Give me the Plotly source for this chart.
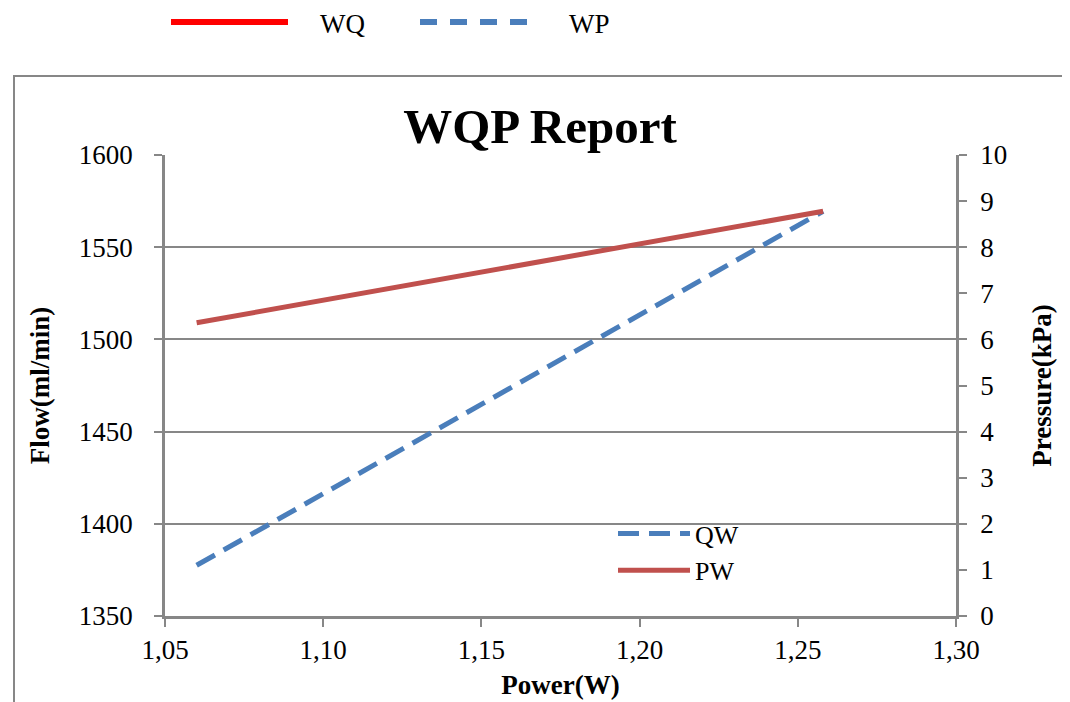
import plotly.graph_objects as go

# Data
power_qw = [1.06, 1.258]
flow_qw = [1377.5, 1569.5]
power_pw = [1.06, 1.258]
pressure_pw = [6.36, 8.78]

x_ticks = [1.05, 1.10, 1.15, 1.20, 1.25, 1.30]
x_tick_labels = ["1,05", "1,10", "1,15", "1,20", "1,25", "1,30"]
left_ticks = [1350, 1400, 1450, 1500, 1550, 1600]
right_ticks = list(range(0, 11))

FONT = "Liberation Serif"
GRAY = "#878787"
BLUE = "#4a7ebb"
RED = "#c0504d"
NB = "\u00a0"

fig = go.Figure()

fig.add_trace(go.Scatter(
    x=power_qw, y=flow_qw, mode="lines", name="QW",
    line=dict(color=BLUE, width=5, dash="21px,10px"),
    legend="legend", yaxis="y"))
fig.add_trace(go.Scatter(
    x=power_pw, y=pressure_pw, mode="lines", name="PW",
    line=dict(color=RED, width=5),
    legend="legend", yaxis="y2"))

# outer legend entries
fig.add_trace(go.Scatter(
    x=[None], y=[None], mode="lines", name=NB * 4 + "WQ",
    line=dict(color="#ff0000", width=6), legend="legend2", yaxis="y"))
fig.add_trace(go.Scatter(
    x=[None], y=[None], mode="lines", name=NB * 4 + "WP",
    line=dict(color=BLUE, width=6, dash="17px,13px"), legend="legend2", yaxis="y"))

W, H = 1070, 702
OFF = 8  # page body margin
L = 165 - OFF
T = 155 - OFF
R = W - (956 - OFF)
B = H - (616 - OFF)
pw = W - L - R
ph = H - T - B

def px(xw):
    return (xw - OFF - L) / pw

def py(yw):
    return (H - B - (yw - OFF)) / ph

fig.add_shape(type="rect", xref="paper", yref="paper",
              x0=px(14), x1=px(1064), y0=py(730), y1=py(76),
              line=dict(color=GRAY, width=2), layer="below")

fig.update_layout(
    width=W, height=H,
    margin=dict(l=L, r=R, t=T, b=B, autoexpand=False),
    paper_bgcolor="white", plot_bgcolor="white",
    font=dict(family=FONT, size=27, color="black"),
    title=dict(text="<b>WQP Report</b>", x=(540 - OFF) / W, xref="container",
               y=1 - (127 - OFF - 1) / H, yref="container",
               xanchor="center", yanchor="middle",
               font=dict(family=FONT, size=49, color="black")),
    xaxis=dict(range=[1.05, 1.30], tickvals=x_ticks, ticktext=x_tick_labels,
               showgrid=False, showline=True, linecolor=GRAY, linewidth=2.5,
               ticks="outside", ticklen=8, tickcolor=GRAY, tickwidth=2,
               zeroline=False, automargin=False,
               title=dict(text="<b>Power(W)</b>", standoff=11,
                          font=dict(family=FONT, size=27))),
    yaxis=dict(range=[1350, 1600], tickvals=left_ticks,
               showgrid=True, gridcolor=GRAY, gridwidth=1.5,
               showline=True, linecolor=GRAY, linewidth=2.5,
               ticks="outside", ticklen=8, tickcolor=GRAY, tickwidth=2,
               ticklabelstandoff=16,
               zeroline=False, automargin=False,
               title=dict(text="<b>Flow(ml/min)</b>", standoff=22,
                          font=dict(family=FONT, size=27))),
    yaxis2=dict(range=[0, 10], tickvals=right_ticks, overlaying="y", side="right",
                showgrid=False, showline=True, linecolor=GRAY, linewidth=2.5,
                ticks="outside", ticklen=8, tickcolor=GRAY, tickwidth=2,
                ticklabelstandoff=8,
                zeroline=False, automargin=False,
                title=dict(text="<b>Pressure(kPa)</b>", standoff=26,
                           font=dict(family=FONT, size=27))),
    legend=dict(x=px(613), y=py(510), xanchor="left", yanchor="top",
                bgcolor="rgba(0,0,0,0)", font=dict(family=FONT, size=26),
                tracegroupgap=0, itemwidth=72),
    legend2=dict(orientation="h", x=px(166), y=py(-2), xanchor="left", yanchor="top",
                 bgcolor="rgba(0,0,0,0)", font=dict(family=FONT, size=27),
                 entrywidth=117, entrywidthmode="pixels", itemwidth=117),
    showlegend=True,
)

fig.write_html("out.html")
